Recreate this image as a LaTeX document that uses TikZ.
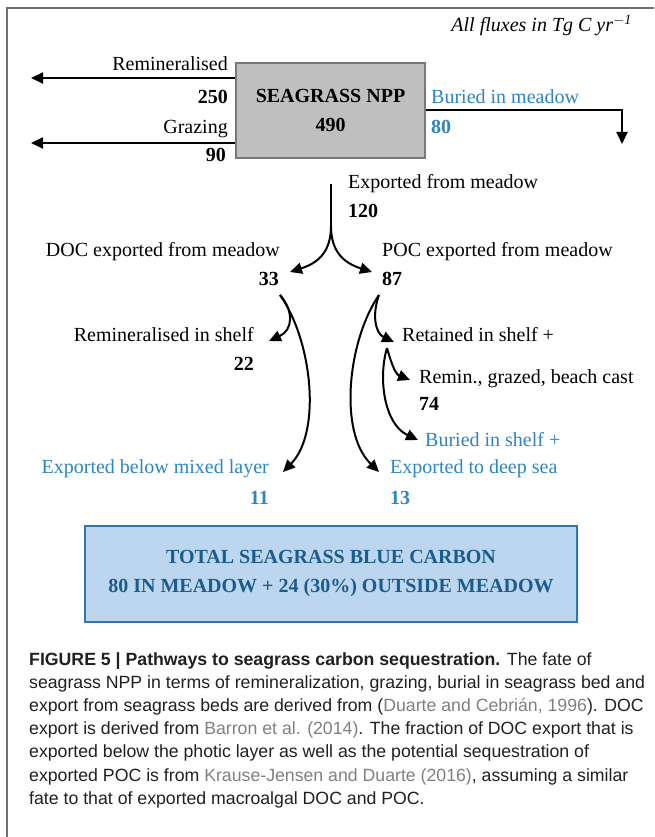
\documentclass[tikz,border=0pt]{standalone}
\usepackage{fontspec}
\setmainfont{Liberation Serif}
\newfontfamily\capfont{Liberation Sans}
\usetikzlibrary{arrows.meta}
\definecolor{framegray}{RGB}{110,110,110}
\definecolor{nppfill}{RGB}{191,191,191}
\definecolor{nppdraw}{RGB}{120,120,120}
\definecolor{lblue}{RGB}{46,134,193}
\definecolor{boxfill}{RGB}{187,214,238}
\definecolor{boxdraw}{RGB}{50,118,176}
\definecolor{boxtext}{RGB}{28,92,140}
\definecolor{captext}{RGB}{35,31,32}
\definecolor{refgray}{RGB}{128,128,128}
\begin{document}
\begin{tikzpicture}[x=1pt,y=-1pt,
  lbl/.style={inner sep=0pt, font=\fontsize{20}{24}\selectfont},
  lw/.style={lbl, anchor=base west},
  le/.style={lbl, anchor=base east},
  numw/.style={lw, font=\fontsize{20}{24}\selectfont\bfseries},
  nume/.style={le, font=\fontsize{20}{24}\selectfont\bfseries},
  flow/.style={line width=2pt, -{Triangle[length=12pt,width=11pt]}},
  capline/.style={inner sep=0pt, anchor=base west, text=captext, font=\capfont\fontsize{17.7}{21}\selectfont}]
\useasboundingbox (0,0) rectangle (654,837);
\fill[white] (0,0) rectangle (654,837);
% frame
\draw[framegray, line width=1.2pt] (7,837) -- (7,8) -- (654,8);
% units
\node[lbl, anchor=base east, font=\fontsize{20}{24}\selectfont\itshape] (units) at (632,32) {All fluxes in Tg C yr$^{\mathit{-1}}$};
% NPP box
\node[draw=nppdraw, fill=nppfill, line width=1.5pt, minimum width=189pt, minimum height=95pt, inner sep=0pt,
  align=center, font=\fontsize{20}{29}\selectfont\bfseries] (npp) at (330.5,110.5) {SEAGRASS NPP\\490};
% left fluxes
\node[le] (reml) at (228,71) {Remineralised};
\node[nume] (remn) at (228,104) {250};
\node[le] (grzl) at (228,134) {Grazing};
\node[nume] (grzn) at (226,161) {90};
\coordinate (remT) at (31,78);
\coordinate (grzT) at (31,143);
\draw[flow] (npp.west |- remT) -- (remT);
\draw[flow] (npp.west |- grzT) -- (grzT);
% buried in meadow
\node[lw, text=lblue] (burl) at (431,104) {Buried in meadow};
\node[numw, text=lblue] (burn) at (431,134) {80};
\coordinate (burC) at (622,110);
\coordinate (burT) at (622,144);
\draw[flow] (npp.east |- burC) -- (burC) -- (burT);
% export
\node[lw] (expl) at (348,189) {Exported from meadow};
\node[numw] (expn) at (348,217) {120};
\coordinate (e0) at (331,184);
\coordinate (e1) at (331,226);
\coordinate (docT) at (290,272);
\coordinate (pocT) at (372,272);
\draw[line width=2pt] (e0) -- (e1);
\draw[flow] (e1) .. controls (331,252) and (318,263) .. (docT);
\draw[flow] (e1) .. controls (331,252) and (344,263) .. (pocT);
\node[le] (docl) at (280,256) {DOC exported from meadow};
\node[nume] (docn) at (279,285) {33};
\node[lw] (pocl) at (382,256) {POC exported from meadow};
\node[numw] (pocn) at (382,285) {87};
% DOC fate
\coordinate (d0) at (280,295);
\coordinate (dremT) at (269,341);
\coordinate (dexpT) at (283,472);
\draw[flow] (d0) .. controls (294,311) and (293,330) .. (dremT);
\draw[flow] (d0) .. controls (312,340) and (322,432) .. (dexpT);
\node[le] (dreml) at (254,341) {Remineralised in shelf};
\node[nume] (dremn) at (254,370) {22};
\node[le, text=lblue] (dexpl) at (269,473) {Exported below mixed layer};
\node[nume, text=lblue] (dexpn) at (269,504) {11};
% POC fate
\coordinate (p0) at (379,295);
\coordinate (pretT) at (394,342);
\coordinate (pexpT) at (379,472);
\draw[flow] (p0) .. controls (372,314) and (375,333) .. (pretT);
\draw[flow] (p0) .. controls (348,340) and (338,432) .. (pexpT);
\node[lw] (pretl) at (402,341) {Retained in shelf +};
\coordinate (p1) at (387,348);
\coordinate (premT) at (410,380);
\coordinate (pburT) at (418,440);
\draw[flow] (p1) .. controls (391,362) and (395,374) .. (premT);
\draw[flow] (p1) .. controls (378,378) and (384,424) .. (pburT);
\node[lw] (preml) at (419,383) {Remin., grazed, beach cast};
\node[numw] (premn) at (419,410) {74};
\node[lw, text=lblue] (pburl) at (425,446) {Buried in shelf +};
\node[lw, text=lblue] (pexpl) at (390,473) {Exported to deep sea};
\node[numw, text=lblue] (pexpn) at (390,504) {13};
% total box
\node[draw=boxdraw, fill=boxfill, line width=1.5pt, minimum width=492pt, minimum height=96pt, inner sep=0pt,
  align=center, text=boxtext, font=\fontsize{20}{29}\selectfont\bfseries] (total) at (331,574)
  {TOTAL SEAGRASS BLUE CARBON\\80 IN MEADOW + 24 (30\%) OUTSIDE MEADOW};
% caption
\node[capline] (c1) at (29,665) {\bfseries FIGURE 5 | Pathways to seagrass carbon sequestration.\mdseries{} The fate of};
\node[capline] (c2) at (29,688.2) {seagrass NPP in terms of remineralization, grazing, burial in seagrass bed and};
\node[capline] (c3) at (29,711.4) {export from seagrass beds are derived from (\textcolor{refgray}{Duarte and Cebrián, 1996}). DOC};
\node[capline] (c4) at (29,734.6) {export is derived from \textcolor{refgray}{Barron et al. (2014)}. The fraction of DOC export that is};
\node[capline] (c5) at (29,757.8) {exported below the photic layer as well as the potential sequestration of};
\node[capline] (c6) at (29,781) {exported POC is from \textcolor{refgray}{Krause-Jensen and Duarte (2016)}, assuming a similar};
\node[capline] (c7) at (29,804.2) {fate to that of exported macroalgal DOC and POC.};
\end{tikzpicture}
\end{document}
